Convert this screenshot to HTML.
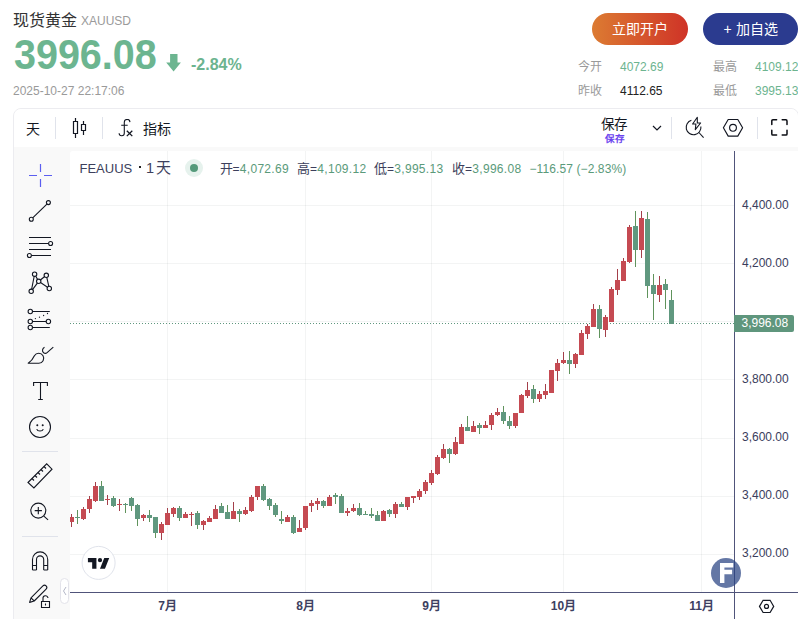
<!DOCTYPE html>
<html lang="zh-CN">
<head>
<meta charset="utf-8">
<style>
*{margin:0;padding:0;box-sizing:border-box}
html,body{width:798px;height:619px;overflow:hidden;background:#fff;font-family:"Liberation Sans",sans-serif}
.a{position:absolute;white-space:nowrap}
#title{left:13px;top:10px;font-size:16px;color:#333;line-height:22px}
#sym{left:81px;top:13px;font-size:12px;color:#9a9a9a;line-height:16px}
#price{left:14px;top:30.5px;font-size:42px;font-weight:bold;color:#6cb590;line-height:48px;transform:scaleX(0.94);transform-origin:0 0}
#chg{left:191px;top:55.7px;font-size:16px;font-weight:bold;color:#6cb48f;line-height:18px}
#date{left:13px;top:83px;font-size:12px;color:#9a9a9a;line-height:16px;letter-spacing:0}
.btn{top:13px;height:32px;border-radius:16px;color:#fff;font-size:14px;line-height:32px;text-align:center}
#b1{left:592px;width:96px;background:linear-gradient(90deg,#dc7b32,#cf3327)}
#b2{left:703px;width:95px;background:#2b3b8f}
.lab{font-size:12px;color:#9a9a9a;line-height:16px}
.val{font-size:12px;color:#6cb48f;line-height:16px;letter-spacing:0}
#box{left:13px;top:108px;width:786px;height:600px;border:1px solid #ececf0;border-radius:8px;background:#f9f9f9;overflow:hidden}
#tb{left:0;top:0;width:800px;height:38px;background:#fff}
#chartbg{left:56px;top:42px;width:800px;height:600px;background:#fff;border-top-left-radius:3px}
.tbt{font-size:14px;color:#131722;line-height:18px}
.sep{width:1px;background:#e0e3eb}
.lg{top:161px;font-size:13px;color:#3d3f5c;line-height:16px}
.lg b{font-weight:normal;font-size:12px;letter-spacing:.3px;color:#5a9a7a}
.lg i{font-style:normal;font-size:12px;letter-spacing:.3px}
</style>
</head>
<body>
<div class="a" id="title">现货黄金</div>
<div class="a" id="sym">XAUUSD</div>
<div class="a" id="price">3996.08</div>
<svg class="a" style="left:165px;top:54px" width="17" height="19" viewBox="0 0 17 19"><path d="M5.1 0H12.5V8.5H15.9L8.6 17.6L1.2 8.5H5.1Z" fill="#6cb590"/></svg>
<div class="a" id="chg">-2.84%</div>
<div class="a" id="date">2025-10-27 22:17:06</div>
<div class="a btn" id="b1">立即开户</div>
<div class="a btn" id="b2">+ 加自选</div>
<div class="a lab" style="left:578px;top:59px">今开</div>
<div class="a val" style="left:620px;top:59px">4072.69</div>
<div class="a lab" style="left:713px;top:59px">最高</div>
<div class="a val" style="left:755px;top:59px">4109.12</div>
<div class="a lab" style="left:578px;top:83px">昨收</div>
<div class="a val" style="left:620px;top:83px;color:#222">4112.65</div>
<div class="a lab" style="left:713px;top:83px">最低</div>
<div class="a val" style="left:755px;top:83px">3995.13</div>

<div class="a" id="box">
  <div class="a" id="tb"></div>
  <div class="a" id="chartbg"></div>
</div>

<!-- toolbar -->
<div class="a tbt" style="left:26px;top:120px">天</div>
<div class="a sep" style="left:55px;top:117px;height:22px"></div>
<svg class="a" style="left:72px;top:118px" width="15" height="20" viewBox="0 0 15 20" fill="none" stroke="#131722" stroke-width="1.2"><path d="M3.5 0v3M3.5 16v4M1.5 3.5h4v12h-4zM11.5 3v3M11.5 13v4M9.5 6.5h4v6h-4z"/></svg>
<div class="a sep" style="left:102px;top:117px;height:22px"></div>
<svg class="a" style="left:118px;top:119px" width="17" height="19" viewBox="0 0 17 19" fill="none" stroke="#131722" stroke-width="1.1"><path d="M6.3 14V3.4A2.85 2.85 0 0 1 12 3.1M6.3 14A2.6 2.6 0 0 1 1.1 14.2M3.2 6.3H9.7"/><path d="M8.8 11.7L14.3 17.1M14.3 11.7L8.8 17.1" stroke-width="1.3"/></svg>
<div class="a tbt" style="left:143px;top:120px">指标</div>

<div class="a tbt" style="left:601px;top:115.5px;font-size:13.5px">保存</div>
<div class="a" style="left:604.5px;top:132.5px;font-size:9.6px;color:#6a42ee;line-height:12px;font-weight:bold">保存</div>
<svg class="a" style="left:652px;top:125px" width="10" height="7" viewBox="0 0 10 7" fill="none" stroke="#131722" stroke-width="1.2"><path d="M1 1l4 4 4-4"/></svg>
<div class="a sep" style="left:671px;top:117px;height:22px"></div>
<svg class="a" style="left:684px;top:116px" width="22" height="23" viewBox="0 0 22 23" fill="none" stroke="#131722" stroke-width="1.1"><path d="M7.4 4.3A7.4 7.4 0 1 0 16.9 10.5"/><path d="M13.3 1.3L8.6 8H11.9L11.3 13.6L16.6 7H13.3Z" stroke-linejoin="round"/><path d="M14.9 16.5L19.6 21.6"/></svg>
<svg class="a" style="left:722px;top:118px" width="22" height="20" viewBox="0 0 22 20" fill="none" stroke="#131722" stroke-width="1.15"><path d="M6.2 1.5h9.6l4.8 8.3-4.8 8.3H6.2L1.4 9.8z" stroke-linejoin="round"/><circle cx="11" cy="9.8" r="3.4"/></svg>
<div class="a sep" style="left:757px;top:117px;height:22px"></div>
<svg class="a" style="left:771px;top:119px" width="17" height="17" viewBox="0 0 17 17" fill="none" stroke="#0c0e14" stroke-width="1.5" stroke-linecap="round"><path d="M0.8 5.6V1.9A1.1 1.1 0 0 1 1.9 0.8H5.6M11.2 0.8H14.9A1.1 1.1 0 0 1 16 1.9V5.6M16 11.2V14.9A1.1 1.1 0 0 1 14.9 16H11.2M5.6 16H1.9A1.1 1.1 0 0 1 0.8 14.9V11.2"/></svg>

<svg class="a" style="left:0;top:0" width="798" height="619" viewBox="0 0 798 619" shape-rendering="crispEdges">
<g fill="rgb(42,46,57)" fill-opacity="0.055">
<rect x="70" y="205" width="664" height="1"/>
<rect x="70" y="263" width="664" height="1"/>
<rect x="70" y="321" width="664" height="1"/>
<rect x="70" y="379" width="664" height="1"/>
<rect x="70" y="438" width="664" height="1"/>
<rect x="70" y="496" width="664" height="1"/>
<rect x="70" y="554" width="664" height="1"/>
<rect x="167" y="151" width="1" height="441"/>
<rect x="305" y="151" width="1" height="441"/>
<rect x="431" y="151" width="1" height="441"/>
<rect x="563" y="151" width="1" height="441"/>
<rect x="701" y="151" width="1" height="441"/>
</g>
<line x1="70" y1="323.5" x2="734" y2="323.5" stroke="#5f977e" stroke-width="1" stroke-dasharray="1 2"/>
<g>
<rect x="71" y="514" width="1" height="13" fill="#a43f4a"/>
<rect x="70" y="517" width="4" height="5" fill="#c54a52"/>
<rect x="77" y="510" width="1" height="14" fill="#60935c"/>
<rect x="75" y="517" width="5" height="1" fill="#60987f"/>
<rect x="83" y="507" width="1" height="13" fill="#a43f4a"/>
<rect x="81" y="509" width="5" height="10" fill="#c54a52"/>
<rect x="89" y="496" width="1" height="17" fill="#a43f4a"/>
<rect x="87" y="499" width="5" height="10" fill="#c54a52"/>
<rect x="95" y="482" width="1" height="20" fill="#a43f4a"/>
<rect x="93" y="486" width="5" height="15" fill="#c54a52"/>
<rect x="101" y="481" width="1" height="20" fill="#60935c"/>
<rect x="99" y="486" width="5" height="15" fill="#60987f"/>
<rect x="107" y="495" width="1" height="10" fill="#a43f4a"/>
<rect x="105" y="499" width="5" height="1" fill="#c54a52"/>
<rect x="113" y="496" width="1" height="11" fill="#60935c"/>
<rect x="111" y="498" width="5" height="8" fill="#60987f"/>
<rect x="119" y="499" width="1" height="12" fill="#a43f4a"/>
<rect x="117" y="504" width="5" height="1" fill="#c54a52"/>
<rect x="125" y="503" width="1" height="10" fill="#60935c"/>
<rect x="123" y="504" width="5" height="1" fill="#60987f"/>
<rect x="131" y="497" width="1" height="14" fill="#60935c"/>
<rect x="129" y="498" width="5" height="8" fill="#60987f"/>
<rect x="137" y="504" width="1" height="22" fill="#60935c"/>
<rect x="135" y="505" width="5" height="14" fill="#60987f"/>
<rect x="143" y="514" width="1" height="7" fill="#a43f4a"/>
<rect x="141" y="515" width="5" height="3" fill="#c54a52"/>
<rect x="149" y="510" width="1" height="12" fill="#60935c"/>
<rect x="147" y="515" width="5" height="3" fill="#60987f"/>
<rect x="155" y="517" width="1" height="21" fill="#60935c"/>
<rect x="153" y="517" width="5" height="16" fill="#60987f"/>
<rect x="161" y="522" width="1" height="18" fill="#a43f4a"/>
<rect x="159" y="524" width="5" height="9" fill="#c54a52"/>
<rect x="167" y="508" width="1" height="17" fill="#a43f4a"/>
<rect x="165" y="513" width="5" height="12" fill="#c54a52"/>
<rect x="173" y="507" width="1" height="10" fill="#a43f4a"/>
<rect x="171" y="508" width="5" height="6" fill="#c54a52"/>
<rect x="179" y="506" width="1" height="15" fill="#60935c"/>
<rect x="177" y="508" width="5" height="10" fill="#60987f"/>
<rect x="185" y="512" width="1" height="6" fill="#a43f4a"/>
<rect x="183" y="514" width="5" height="4" fill="#c54a52"/>
<rect x="191" y="512" width="1" height="14" fill="#a43f4a"/>
<rect x="189" y="514" width="5" height="1" fill="#c54a52"/>
<rect x="197" y="511" width="1" height="18" fill="#60935c"/>
<rect x="195" y="513" width="5" height="12" fill="#60987f"/>
<rect x="203" y="520" width="1" height="10" fill="#a43f4a"/>
<rect x="201" y="521" width="5" height="4" fill="#c54a52"/>
<rect x="209" y="516" width="1" height="6" fill="#a43f4a"/>
<rect x="207" y="518" width="5" height="4" fill="#c54a52"/>
<rect x="215" y="505" width="1" height="14" fill="#a43f4a"/>
<rect x="213" y="509" width="5" height="10" fill="#c54a52"/>
<rect x="221" y="503" width="1" height="10" fill="#60935c"/>
<rect x="219" y="506" width="5" height="7" fill="#60987f"/>
<rect x="227" y="505" width="1" height="14" fill="#60935c"/>
<rect x="225" y="512" width="5" height="7" fill="#60987f"/>
<rect x="233" y="502" width="1" height="17" fill="#a43f4a"/>
<rect x="231" y="511" width="5" height="8" fill="#c54a52"/>
<rect x="239" y="509" width="1" height="13" fill="#60935c"/>
<rect x="237" y="511" width="5" height="3" fill="#60987f"/>
<rect x="245" y="507" width="1" height="8" fill="#a43f4a"/>
<rect x="243" y="510" width="5" height="4" fill="#c54a52"/>
<rect x="251" y="495" width="1" height="17" fill="#a43f4a"/>
<rect x="249" y="497" width="5" height="14" fill="#c54a52"/>
<rect x="257" y="486" width="1" height="14" fill="#a43f4a"/>
<rect x="255" y="486" width="5" height="11" fill="#c54a52"/>
<rect x="263" y="484" width="1" height="17" fill="#60935c"/>
<rect x="261" y="486" width="5" height="14" fill="#60987f"/>
<rect x="269" y="498" width="1" height="12" fill="#60935c"/>
<rect x="267" y="499" width="5" height="7" fill="#60987f"/>
<rect x="275" y="503" width="1" height="14" fill="#60935c"/>
<rect x="273" y="505" width="5" height="10" fill="#60987f"/>
<rect x="281" y="511" width="1" height="13" fill="#60935c"/>
<rect x="279" y="519" width="5" height="2" fill="#60987f"/>
<rect x="287" y="515" width="1" height="7" fill="#a43f4a"/>
<rect x="285" y="517" width="5" height="5" fill="#c54a52"/>
<rect x="293" y="515" width="1" height="19" fill="#60935c"/>
<rect x="291" y="517" width="5" height="16" fill="#60987f"/>
<rect x="299" y="520" width="1" height="12" fill="#a43f4a"/>
<rect x="297" y="528" width="5" height="4" fill="#c54a52"/>
<rect x="305" y="506" width="1" height="24" fill="#a43f4a"/>
<rect x="303" y="506" width="5" height="22" fill="#c54a52"/>
<rect x="311" y="500" width="1" height="12" fill="#a43f4a"/>
<rect x="309" y="503" width="5" height="3" fill="#c54a52"/>
<rect x="317" y="498" width="1" height="12" fill="#a43f4a"/>
<rect x="315" y="501" width="5" height="3" fill="#c54a52"/>
<rect x="323" y="500" width="1" height="8" fill="#60935c"/>
<rect x="321" y="501" width="5" height="5" fill="#60987f"/>
<rect x="329" y="495" width="1" height="11" fill="#a43f4a"/>
<rect x="327" y="497" width="5" height="9" fill="#c54a52"/>
<rect x="335" y="493" width="1" height="11" fill="#60935c"/>
<rect x="333" y="495" width="5" height="2" fill="#60987f"/>
<rect x="341" y="494" width="1" height="19" fill="#60935c"/>
<rect x="339" y="496" width="5" height="17" fill="#60987f"/>
<rect x="347" y="508" width="1" height="8" fill="#a43f4a"/>
<rect x="345" y="511" width="5" height="2" fill="#c54a52"/>
<rect x="353" y="504" width="1" height="8" fill="#a43f4a"/>
<rect x="351" y="508" width="5" height="3" fill="#c54a52"/>
<rect x="359" y="503" width="1" height="13" fill="#60935c"/>
<rect x="357" y="508" width="5" height="7" fill="#60987f"/>
<rect x="365" y="511" width="1" height="4" fill="#60935c"/>
<rect x="363" y="514" width="5" height="1" fill="#60987f"/>
<rect x="371" y="508" width="1" height="10" fill="#60935c"/>
<rect x="369" y="514" width="5" height="2" fill="#60987f"/>
<rect x="377" y="511" width="1" height="10" fill="#60935c"/>
<rect x="375" y="515" width="5" height="6" fill="#60987f"/>
<rect x="383" y="510" width="1" height="11" fill="#a43f4a"/>
<rect x="381" y="511" width="5" height="10" fill="#c54a52"/>
<rect x="389" y="509" width="1" height="8" fill="#60935c"/>
<rect x="387" y="510" width="5" height="4" fill="#60987f"/>
<rect x="395" y="502" width="1" height="16" fill="#a43f4a"/>
<rect x="393" y="504" width="5" height="10" fill="#c54a52"/>
<rect x="401" y="502" width="1" height="5" fill="#60935c"/>
<rect x="399" y="504" width="5" height="3" fill="#60987f"/>
<rect x="407" y="497" width="1" height="13" fill="#a43f4a"/>
<rect x="405" y="497" width="5" height="10" fill="#c54a52"/>
<rect x="413" y="496" width="1" height="7" fill="#a43f4a"/>
<rect x="411" y="496" width="5" height="2" fill="#c54a52"/>
<rect x="419" y="489" width="1" height="11" fill="#a43f4a"/>
<rect x="417" y="491" width="5" height="6" fill="#c54a52"/>
<rect x="425" y="480" width="1" height="14" fill="#a43f4a"/>
<rect x="423" y="482" width="5" height="9" fill="#c54a52"/>
<rect x="431" y="470" width="1" height="15" fill="#a43f4a"/>
<rect x="429" y="473" width="5" height="10" fill="#c54a52"/>
<rect x="437" y="455" width="1" height="20" fill="#a43f4a"/>
<rect x="435" y="457" width="5" height="17" fill="#c54a52"/>
<rect x="443" y="444" width="1" height="15" fill="#a43f4a"/>
<rect x="441" y="449" width="5" height="9" fill="#c54a52"/>
<rect x="449" y="448" width="1" height="15" fill="#60935c"/>
<rect x="447" y="449" width="5" height="5" fill="#60987f"/>
<rect x="455" y="437" width="1" height="18" fill="#a43f4a"/>
<rect x="453" y="442" width="5" height="12" fill="#c54a52"/>
<rect x="461" y="424" width="1" height="20" fill="#a43f4a"/>
<rect x="459" y="427" width="5" height="17" fill="#c54a52"/>
<rect x="467" y="416" width="1" height="15" fill="#60935c"/>
<rect x="465" y="427" width="5" height="4" fill="#60987f"/>
<rect x="473" y="421" width="1" height="11" fill="#a43f4a"/>
<rect x="471" y="426" width="5" height="6" fill="#c54a52"/>
<rect x="479" y="423" width="1" height="11" fill="#60935c"/>
<rect x="477" y="425" width="5" height="3" fill="#60987f"/>
<rect x="485" y="421" width="1" height="7" fill="#a43f4a"/>
<rect x="483" y="425" width="5" height="3" fill="#c54a52"/>
<rect x="491" y="413" width="1" height="17" fill="#a43f4a"/>
<rect x="489" y="415" width="5" height="10" fill="#c54a52"/>
<rect x="497" y="408" width="1" height="8" fill="#a43f4a"/>
<rect x="495" y="412" width="5" height="3" fill="#c54a52"/>
<rect x="503" y="406" width="1" height="18" fill="#60935c"/>
<rect x="501" y="412" width="5" height="9" fill="#60987f"/>
<rect x="509" y="416" width="1" height="13" fill="#60935c"/>
<rect x="507" y="421" width="5" height="5" fill="#60987f"/>
<rect x="515" y="413" width="1" height="15" fill="#a43f4a"/>
<rect x="513" y="413" width="5" height="13" fill="#c54a52"/>
<rect x="521" y="394" width="1" height="19" fill="#a43f4a"/>
<rect x="519" y="395" width="5" height="18" fill="#c54a52"/>
<rect x="527" y="382" width="1" height="16" fill="#a43f4a"/>
<rect x="525" y="390" width="5" height="6" fill="#c54a52"/>
<rect x="533" y="385" width="1" height="18" fill="#60935c"/>
<rect x="531" y="389" width="5" height="10" fill="#60987f"/>
<rect x="539" y="391" width="1" height="11" fill="#a43f4a"/>
<rect x="537" y="394" width="5" height="5" fill="#c54a52"/>
<rect x="545" y="384" width="1" height="15" fill="#a43f4a"/>
<rect x="543" y="391" width="5" height="4" fill="#c54a52"/>
<rect x="551" y="370" width="1" height="23" fill="#a43f4a"/>
<rect x="549" y="370" width="5" height="23" fill="#c54a52"/>
<rect x="557" y="359" width="1" height="22" fill="#a43f4a"/>
<rect x="555" y="363" width="5" height="8" fill="#c54a52"/>
<rect x="563" y="352" width="1" height="12" fill="#a43f4a"/>
<rect x="561" y="360" width="5" height="3" fill="#c54a52"/>
<rect x="569" y="351" width="1" height="23" fill="#60935c"/>
<rect x="567" y="360" width="5" height="4" fill="#60987f"/>
<rect x="575" y="353" width="1" height="15" fill="#a43f4a"/>
<rect x="573" y="354" width="5" height="10" fill="#c54a52"/>
<rect x="581" y="330" width="1" height="25" fill="#a43f4a"/>
<rect x="579" y="333" width="5" height="22" fill="#c54a52"/>
<rect x="587" y="324" width="1" height="15" fill="#a43f4a"/>
<rect x="585" y="326" width="5" height="8" fill="#c54a52"/>
<rect x="593" y="304" width="1" height="23" fill="#a43f4a"/>
<rect x="591" y="309" width="5" height="18" fill="#c54a52"/>
<rect x="599" y="305" width="1" height="33" fill="#60935c"/>
<rect x="597" y="309" width="5" height="20" fill="#60987f"/>
<rect x="605" y="315" width="1" height="22" fill="#a43f4a"/>
<rect x="603" y="317" width="5" height="13" fill="#c54a52"/>
<rect x="611" y="287" width="1" height="35" fill="#a43f4a"/>
<rect x="609" y="289" width="5" height="33" fill="#c54a52"/>
<rect x="617" y="269" width="1" height="26" fill="#a43f4a"/>
<rect x="615" y="280" width="5" height="10" fill="#c54a52"/>
<rect x="623" y="258" width="1" height="23" fill="#a43f4a"/>
<rect x="621" y="261" width="5" height="20" fill="#c54a52"/>
<rect x="629" y="225" width="1" height="38" fill="#a43f4a"/>
<rect x="627" y="227" width="5" height="35" fill="#c54a52"/>
<rect x="635" y="211" width="1" height="56" fill="#60935c"/>
<rect x="633" y="226" width="5" height="24" fill="#60987f"/>
<rect x="641" y="211" width="1" height="47" fill="#a43f4a"/>
<rect x="639" y="218" width="5" height="32" fill="#c54a52"/>
<rect x="647" y="212" width="1" height="86" fill="#60935c"/>
<rect x="645" y="219" width="5" height="67" fill="#60987f"/>
<rect x="653" y="274" width="1" height="46" fill="#60935c"/>
<rect x="651" y="285" width="5" height="9" fill="#60987f"/>
<rect x="659" y="276" width="1" height="26" fill="#a43f4a"/>
<rect x="657" y="285" width="5" height="10" fill="#c54a52"/>
<rect x="665" y="279" width="1" height="30" fill="#60935c"/>
<rect x="663" y="284" width="5" height="6" fill="#60987f"/>
<rect x="671" y="290" width="1" height="34" fill="#60935c"/>
<rect x="669" y="300" width="5" height="24" fill="#60987f"/>
</g>
<rect x="734" y="151" width="1" height="468" fill="#50547a"/>
<rect x="70" y="592" width="728" height="1" fill="#50547a"/>
<g font-family="Liberation Sans" font-size="12" fill="#3a3d5c" shape-rendering="auto">
<text x="742" y="208.5">4,400.00</text>
<text x="742" y="266.5">4,200.00</text>
<text x="742" y="382.5">3,800.00</text>
<text x="742" y="441">3,600.00</text>
<text x="742" y="499">3,400.00</text>
<text x="742" y="557">3,200.00</text>
</g>
<path d="M734 315h58a2 2 0 0 1 2 2v13a2 2 0 0 1-2 2h-58z" fill="#5f967d" shape-rendering="auto"/>
<text x="741.5" y="326.5" font-family="Liberation Sans" font-size="12" fill="#fff">3,996.08</text>
<g font-family="Liberation Sans" font-size="12" font-weight="bold" fill="#3d4060" text-anchor="middle">
<text x="167.5" y="609.5">7月</text>
<text x="305.5" y="609.5">8月</text>
<text x="431.5" y="609.5">9月</text>
<text x="563.5" y="609.5">10月</text>
<text x="701.5" y="609.5">11月</text>
</g>
<g shape-rendering="auto">
<circle cx="726" cy="573" r="15" fill="rgb(42,69,131)" fill-opacity="0.73"/>
<path d="M720 563h13.3v4.6h-8.9v2.2h7.7v4.4h-7.7v8.8h-4.4z" fill="#fff"/>
<path d="M759.5 606.4l3.6-6.1h7l3.6 6.1-3.6 6.1h-7z" fill="none" stroke="#131722" stroke-width="1.2"/>
<circle cx="766.5" cy="606.4" r="2" fill="none" stroke="#131722" stroke-width="1.2"/>
<circle cx="98.6" cy="562.9" r="16.5" fill="#fff" stroke="#e0e3eb" stroke-width="1"/>
<g transform="translate(86.5 556.6) scale(0.71)"><path d="M14 2H2v6h6v9h6V2Zm12 15h-7l6-15h7l-6 15Zm-7-9a3 3 0 1 0 0-6 3 3 0 0 0 0 6Z" fill="#131722"/></g>
</g>
</svg>
<!-- legend -->
<div class="a" style="left:79.5px;top:160px;font-size:13px;color:#3d3f5c;line-height:17px">FEAUUS</div>
<div class="a" style="left:138.7px;top:166px;width:2px;height:2px;background:#222"></div>
<div class="a" style="left:146px;top:159px;font-size:14.5px;color:#3d3f5c;line-height:18px">1<span style="font-size:15px;margin-left:2px">天</span></div>
<svg class="a" style="left:185px;top:159px" width="18" height="18"><circle cx="9" cy="9" r="9" fill="#e6f2ed"/><circle cx="9" cy="9" r="4" fill="#559a7b"/></svg>
<div class="a lg" style="left:219.5px">开<i>=</i><b>4,072.69</b></div>
<div class="a lg" style="left:297px">高<i>=</i><b>4,109.12</b></div>
<div class="a lg" style="left:374px">低<i>=</i><b>3,995.13</b></div>
<div class="a lg" style="left:452px">收<i>=</i><b>3,996.08</b></div>
<div class="a lg" style="left:529.5px"><b style="letter-spacing:.1px">−116.57 (−2.83%)</b></div>
<!-- left tools -->
<svg class="a" style="left:14px;top:151px" width="56" height="468" viewBox="14 151 56 468" fill="none" stroke="#131722" stroke-width="1.1">
<path d="M29 175.5h8M44 175.5h8M40.5 164v8M40.5 179v8" stroke="#5b5ef0" stroke-width="1.2"/>
<path d="M32.7 217.8l14.2-13.7"/><circle cx="31.3" cy="219.3" r="2"/><circle cx="48.4" cy="202.6" r="2"/>
<path d="M29 237.5h22M29 243.5h19.5M29 249.5h22M31.5 255.5h19.5"/><circle cx="50.6" cy="243.5" r="2"/><circle cx="29.4" cy="255.5" r="2"/>
<path d="M31.2 291.3L34.6 274.2L38.7 281.3L46.3 275.3L49.3 288.5L38.7 281.3L31.2 291.3"/><circle cx="34.6" cy="274.2" r="2.2" fill="#f9f9f9"/><circle cx="46.3" cy="275.3" r="2.2" fill="#f9f9f9"/><circle cx="38.7" cy="281.3" r="2.2" fill="#f9f9f9"/><circle cx="31.2" cy="291.3" r="2.2" fill="#f9f9f9"/><circle cx="49.3" cy="288.5" r="2.2" fill="#f9f9f9"/>
<path d="M32.5 311.5h17.3M32.5 321.5h13.7M32.5 327.5h17.3"/><g fill="#131722" stroke="none"><circle cx="35.4" cy="318.6" r=".65"/><circle cx="39.5" cy="317.2" r=".65"/><circle cx="43.6" cy="315.5" r=".65"/><circle cx="47.5" cy="313.5" r=".65"/></g><circle cx="30.3" cy="311.5" r="2.2"/><circle cx="30.3" cy="321.5" r="2.2"/><circle cx="48.4" cy="321.5" r="2.2"/><circle cx="30.3" cy="327.5" r="2.2"/>
<path d="M28.2 363.3H38.8A5 5 0 1 0 34.4 355.8C33.2 358.6 31.5 361 28.2 363.3Z" stroke-linejoin="round"/><path d="M44.5 347.2C42.3 348.3 41.8 351.3 43.6 352.7C44.6 353.5 46.1 353.5 47.1 352.6L53.3 347.2"/>
<path d="M33.6 386v-3.5h13.8v3.5M40.5 382.5v17M38.2 399.5h4.6"/>
<circle cx="40" cy="427" r="10.5"/><circle cx="37.3" cy="425.3" r=".45" fill="#131722"/><circle cx="42.7" cy="425.3" r=".45" fill="#131722"/><path d="M36.7 429.1C37.6 431.7 42.4 431.7 43.3 429.1"/>
<path d="M22 451.5h36M22 536.5h36" stroke="#e0e3eb"/>
<path d="M28 482.5l18.7-18.6 5.3 5.3-18.1 18.7z"/><path d="M32 478.5l2 2M35 475.5l2 2M38 472.5l2 2M41 469.5l2 2M44 466.5l2 2"/>
<circle cx="38.3" cy="510.6" r="7.5"/><path d="M43.8 516.1l4.3 3.8M38.3 507v7.2M34.7 510.6h7.2"/>
<path d="M32.5 570v-10.5a7.6 7.6 0 0 1 15.2 0V570M32.5 565.5h4M43.7 565.5h4M36.5 570v-10.5a3.6 3.6 0 0 1 7.2 0V570M32.5 570h4M43.7 570h4"/>
<path d="M29.6 602.4L31 597.8L42.9 585.9A2.26 2.26 0 0 1 46.1 589.1L34.2 601ZM31 597.8L34.2 601" stroke-linejoin="round"/><path d="M41.5 601.5h8v6h-8zM43 601.5v-3a2.5 2.5 0 0 1 5 -.5"/><path d="M45.5 603.5v2"/>
</svg>
<div class="a" style="left:60px;top:578px;width:9px;height:26px;border:1px solid #e3e3ea;border-radius:5px;background:#fff"></div>
<svg class="a" style="left:62px;top:586px" width="5" height="10" viewBox="0 0 5 10" fill="none" stroke="#b5b8c8" stroke-width="1"><path d="M4 1L1.5 5 4 9"/></svg>

</body>
</html>
